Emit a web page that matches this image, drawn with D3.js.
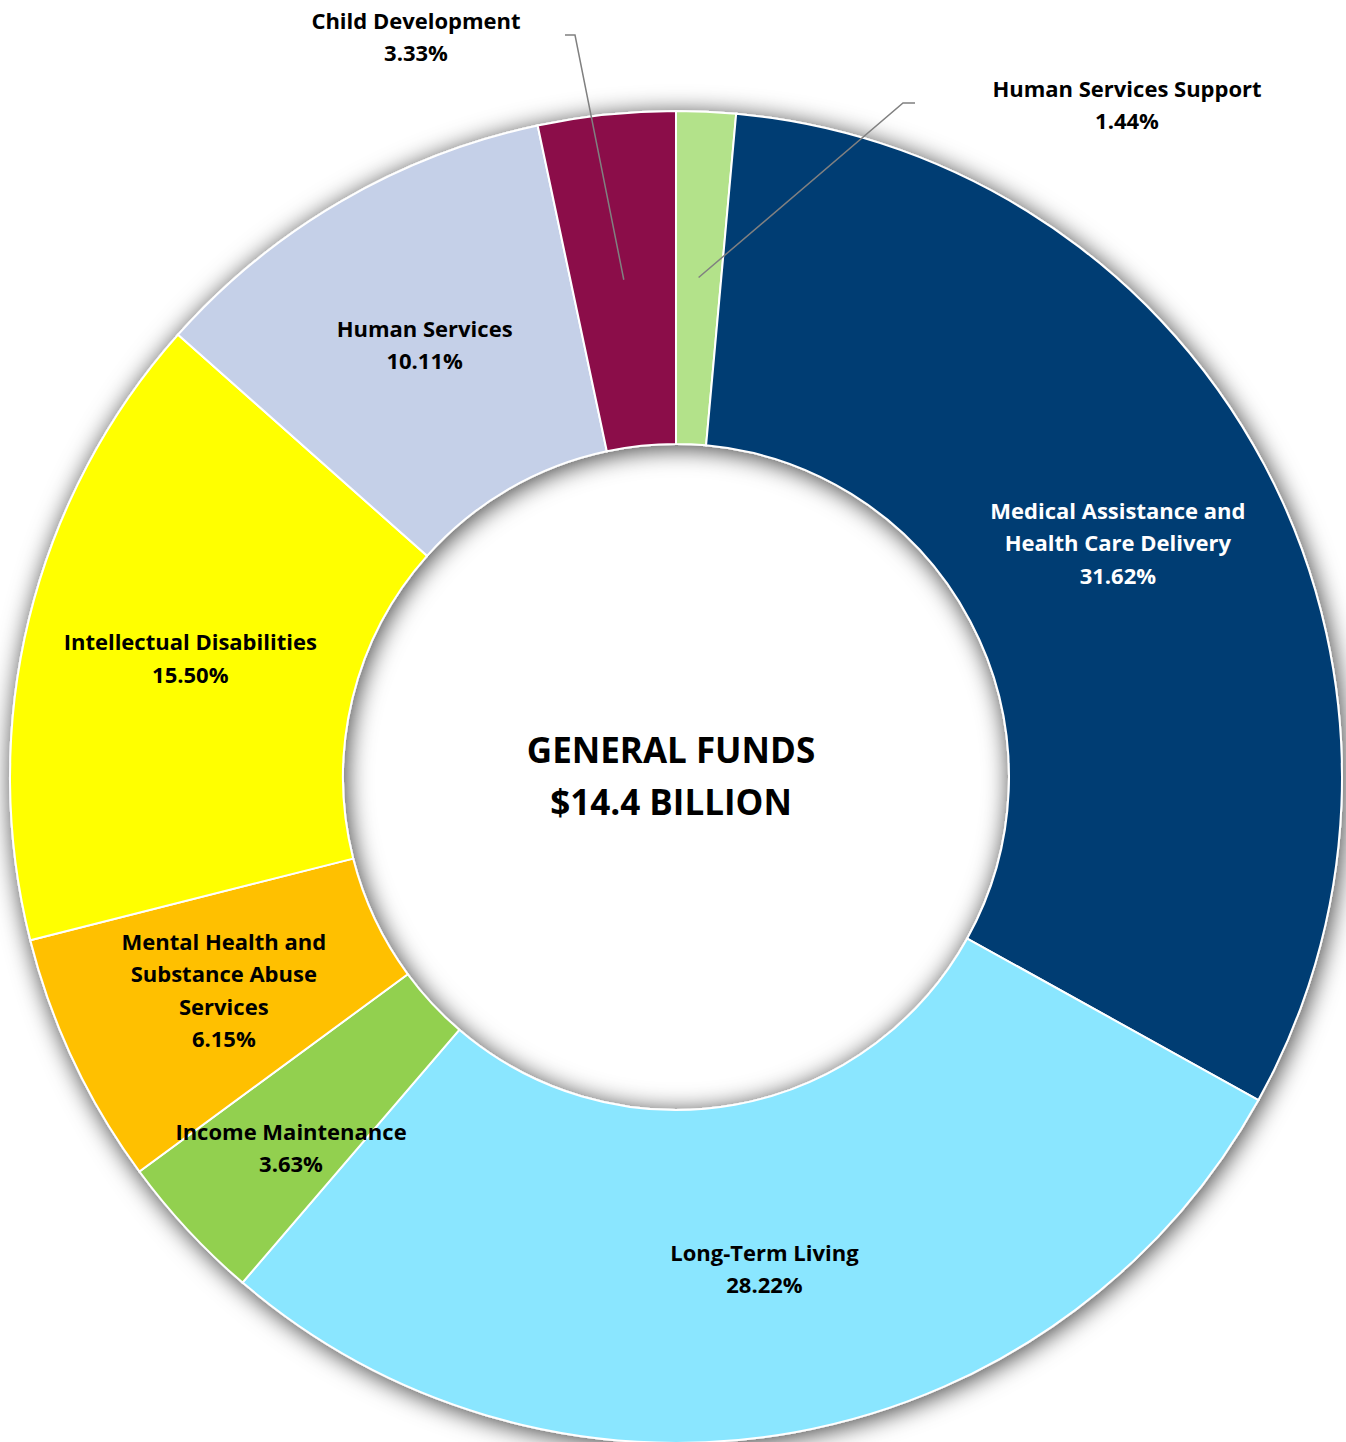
<!DOCTYPE html>
<html>
<head>
<meta charset="utf-8">
<script src="https://cdn.jsdelivr.net/npm/d3@7"></script>
<style>
  body { margin: 0; background: #fff; }
  text { font-family: "Open Sans", Lato, sans-serif; font-weight: bold; fill: #000; }
</style>
</head>
<body>
<div id="vizcont"></div>
<script>
// slices, clockwise from 12 o'clock
var categories = ["Human Services Support", "Medical Assistance and Health Care Delivery", "Long-Term Living",
                  "Income Maintenance", "Mental Health and Substance Abuse Services", "Intellectual Disabilities",
                  "Human Services", "Child Development"];
var shares = [1.44, 31.62, 28.22, 3.63, 6.15, 15.50, 10.11, 3.33];
var labelLines = [["Human Services Support"], ["Medical Assistance and", "Health Care Delivery"], ["Long-Term Living"],
                  ["Income Maintenance"], ["Mental Health and", "Substance Abuse", "Services"], ["Intellectual Disabilities"],
                  ["Human Services"], ["Child Development"]];
var colors = ["#b3e28a", "#003d73", "#8ae6ff", "#92d050", "#ffc000", "#ffff00", "#c5d0e8", "#8b0d48"];
var centerTitle = ["GENERAL FUNDS", "$14.4 BILLION"];

var width = 1346, height = 1442;
var cx = 676, cy = 777;
var outerR = 666, innerR = 333, labelR = 500;
var lineH = 32.5;

// labels that Excel moved off the centroid (outside ones get a leader line)
var moved = {
  "Income Maintenance": {x: 291, y: 1148},
  "Child Development": {x: 416, y: 37, elbow: [575, 35]},
  "Human Services Support": {x: 1127, y: 105, elbow: [903, 103], elbowEnd: 915}
};

var svg = d3.select("#vizcont").append("svg")
    .attr("width", width).attr("height", height);

var defs = svg.append("defs");
var f = defs.append("filter").attr("id", "shadow")
    .attr("x", "-10%").attr("y", "-10%").attr("width", "120%").attr("height", "120%");
f.append("feGaussianBlur").attr("in", "SourceAlpha").attr("stdDeviation", 12).attr("result", "blur");
f.append("feOffset").attr("in", "blur").attr("dx", 2).attr("dy", 3).attr("result", "off");
f.append("feFlood").attr("flood-color", "#000").attr("flood-opacity", 0.75);
f.append("feComposite").attr("in2", "off").attr("operator", "in").attr("result", "sh");
var m = f.append("feMerge");
m.append("feMergeNode").attr("in", "sh");
m.append("feMergeNode").attr("in", "SourceGraphic");

var g = svg.append("g").attr("transform", "translate(" + cx + "," + cy + ")");

var pie = d3.pie().sort(null).value(function(d) { return d; });
var arcs = pie(shares);
var arc = d3.arc().innerRadius(innerR).outerRadius(outerR);
var mid = d3.arc().innerRadius(labelR).outerRadius(labelR);

g.append("g").attr("filter", "url(#shadow)")
  .selectAll("path")
  .data(arcs)
  .enter().append("path")
    .attr("d", arc)
    .attr("fill", function(d, i) { return colors[i]; })
    .attr("stroke", "#fff")
    .attr("stroke-width", 2);

// leader lines
arcs.forEach(function(d, i) {
  var mv = moved[categories[i]];
  if (mv && mv.elbow) {
    var c = mid.centroid(d);
    var ex = mv.elbow[0] - cx, ey = mv.elbow[1] - cy;
    var endX = (mv.elbowEnd !== undefined ? mv.elbowEnd : mv.elbow[0] - 10) - cx;
    g.append("path")
      .attr("d", "M" + c[0] + "," + c[1] + "L" + ex + "," + ey + "L" + endX + "," + ey)
      .attr("fill", "none").attr("stroke", "#808080").attr("stroke-width", 1.5);
  }
});

// slice labels
arcs.forEach(function(d, i) {
  var mv = moved[categories[i]] || {};
  var pos;
  if (mv.x !== undefined) {
    pos = [mv.x - cx, mv.y - cy];
  } else {
    var r = mv.r || labelR;
    pos = d3.arc().innerRadius(r).outerRadius(r).centroid(d);
  }
  var lines = labelLines[i].concat([d3.format(".2f")(shares[i]) + "%"]);
  var t = g.append("text")
    .attr("text-anchor", "middle")
    .attr("font-size", 22)
    .style("fill", i === 1 ? "#fff" : "#000");
  lines.forEach(function(l, k) {
    t.append("tspan")
      .attr("x", pos[0])
      .attr("y", pos[1] + (k - (lines.length - 1) / 2) * lineH + 8)
      .text(l);
  });
});

// center title
var ct = g.append("text").attr("text-anchor", "middle").attr("font-size", 35);
centerTitle.forEach(function(l, k) {
  ct.append("tspan").attr("x", -5).attr("y", -28 + k * 52 + 14).text(l);
});
</script>
</body>
</html>
